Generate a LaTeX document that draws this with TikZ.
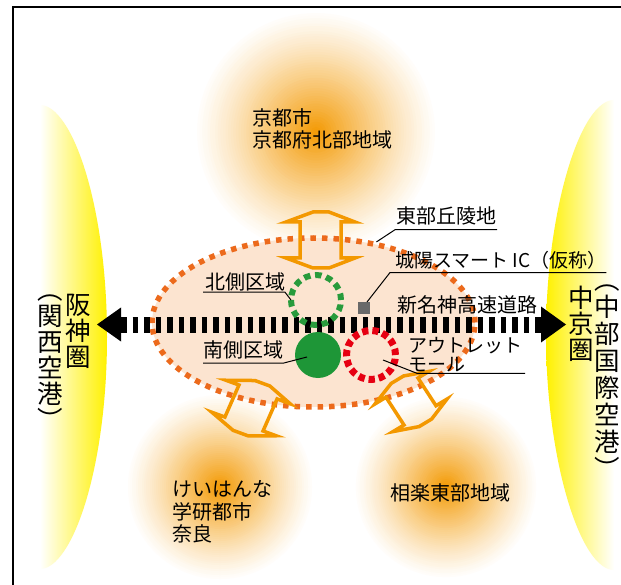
\documentclass[tikz,border=0pt]{standalone}
\usepackage{fontspec}
\setmainfont{Noto Sans CJK JP}
\usetikzlibrary{shapes.geometric,arrows.meta,calc}
\definecolor{glowc}{RGB}{243,152,0}
\definecolor{lensY}{RGB}{255,241,0}
\definecolor{peach}{RGB}{252,228,208}
\definecolor{dotor}{RGB}{236,106,28}
\definecolor{arrowor}{RGB}{243,152,0}
\definecolor{gring}{RGB}{40,155,60}
\definecolor{gdisk}{RGB}{30,150,55}
\definecolor{rring}{RGB}{230,0,18}
\definecolor{sqgray}{RGB}{105,105,105}
\newcommand\glowdisc[3]{%
  \foreach \i in {0,...,47}{%
    \pgfmathsetmacro\rr{#3*(1-\i/48)}%
    \pgfmathtruncatemacro\pp{100*(\i/48)^1.2}%
    \fill[glowc!\pp!white] (#1,#2) circle (\rr);}}
\tikzset{
  lbl/.style={font=\fontsize{20pt}{22pt}\selectfont, inner sep=0pt, outer sep=0pt, text=black},
  lblk/.style={font=\fontsize{20pt}{22.5pt}\selectfont, inner sep=0pt, outer sep=0pt, text=black},
  lbls/.style={font=\fontsize{19pt}{19pt}\selectfont, inner sep=0pt, outer sep=0pt, text=black},
  vtxt/.style={font=\fontsize{25.5pt}{26pt}\selectfont, align=center, inner sep=0pt, outer sep=0pt, text=black},
  vtxtw/.style={font=\fontsize{25.5pt}{27pt}\selectfont, align=center, inner sep=0pt, outer sep=0pt, text=black},
  leader/.style={draw=black, line width=1pt},
  oarrow/.style={draw=arrowor, line width=3.5pt, line join=miter},
  road/.style={draw=black, line width=16pt, dash pattern=on 5.5pt off 6pt,
    {Triangle[length=24pt, width=34pt, line width=0pt]}-{Triangle[length=25pt, width=36pt, line width=0pt]}},
  dblarr/.pic={\draw[oarrow] (-34.5,18) -- (-7.5,28) -- (8.5,28) -- (34.5,18) -- (20.5,18) -- (20.5,-18) -- (34.5,-18) -- (8.5,-28) -- (-7.5,-28) -- (-34.5,-18) -- (-20.5,-18) -- (-20.5,18) -- cycle;}
}
\begin{document}
\begin{tikzpicture}[x=1pt, y=-1pt]
\useasboundingbox (0,0) rectangle (621,585);
\fill[white] (0,0) rectangle (621,585);
\begin{scope}
\clip (0,0) rectangle (621,585);
% glows
\glowdisc{316}{132}{124}
\glowdisc{220}{487}{96}
\glowdisc{446}{487}{94}
% yellow lenses
\shade[left color=white, right color=lensY] (40,105) .. controls (72,105) and (107,205) .. (107,337) .. controls (107,469) and (72,569) .. (40,569) -- cycle;
\shade[left color=lensY, right color=white] (614,100) .. controls (580,100) and (546,212) .. (546,335) .. controls (546,458) and (580,570) .. (614,570) -- cycle;
% hill area
\node[ellipse, fill=peach, draw=dotor, line width=5.5pt, dash pattern=on 5.5pt off 6pt, minimum width=323pt, minimum height=169pt, inner sep=0pt] (hill) at (313.5,322.5) {};
% road
\coordinate (roadL) at (97,324.5);
\coordinate (roadR) at (566,324.5);
\draw[road] (roadL) -- (roadR);
% zones
\node[circle, draw=gring, line width=6pt, dash pattern=on 6.5pt off 4.72pt, minimum size=50pt, inner sep=0pt, outer sep=0pt] (kring) at (316,300) {};
\node[circle, fill=gdisk, minimum size=46pt, inner sep=0pt, outer sep=0pt] (sdisk) at (318,355) {};
\node[circle, draw=rring, line width=7pt, dash pattern=on 6.3pt off 3.96pt, minimum size=49pt, inner sep=0pt, outer sep=0pt] (rring) at (371,355) {};
\node[fill=sqgray, minimum size=12pt, inner sep=0pt, outer sep=0pt] (gsq) at (364,308) {};
% orange double arrows
\pic (arrN) at (320.5,240) {dblarr};
\pic[shift={(251,408)}, cm={0.93,-0.34,0.39,0.89,(0,0)}] (arrSW) {dblarr};
\pic[shift={(411,401.5)}, cm={0.78,0.47,-0.5,0.77,(0,0)}] (arrSE) {dblarr};
% labels
\node[lbl, align=left, anchor=west] (kyoto) at (252,128.5) {京都市\\京都府北部地域};
\node[lblk, align=left, anchor=west] (keihanna) at (172,512) {けいはんな\\学研都市\\奈良};
\node[lbl, anchor=west] (soraku) at (390,492.5) {相楽東部地域};
\node[lbl, anchor=west] (higashi) at (396,215.5) {東部丘陵地};
\node[lbls, anchor=west] (johyo) at (395,260) {城陽スマート IC（仮称）};
\node[lbl, anchor=west] (shinmei) at (397,304.5) {新名神高速道路};
\node[lbl, anchor=west] (kita) at (205,281.5) {北側区域};
\node[lbl, anchor=west] (minami) at (203,350) {南側区域};
\node[lbls, align=left, anchor=west] (outlet) at (408,355) {アウトレット\\モール};
% vertical labels
\node[vtxt] (hanshin) at (78,331) {阪\\神\\圏};
\node[vtxt] (kansai) at (50,362) {︵\\関\\西\\空\\港\\︶};
\node[vtxt] (chukyo) at (581,324) {中\\京\\圏};
\node[vtxtw] (chubu) at (607.5,382) {︵\\中\\部\\国\\際\\空\\港\\︶};
% leaders
\draw[leader] ($(higashi.south east)+(1,5)$) -- ($(higashi.south west)+(-1,5)$) -- (hill.52);
\draw[leader] ($(johyo.south east)+(0,3.5)$) -- ($(johyo.south west)+(-5,3.5)$) -- ($(gsq.north)+(3,0)$);
\draw[leader] ($(kita.south west)+(-2,1.5)$) -- ($(kita.south east)+(0,1.5)$) -- (kring.west);
\draw[leader] ($(minami.south west)+(0,4)$) -- ($(minami.south east)+(0,4)$) -- ($(sdisk.center)+(-11,2)$);
\draw[leader] ($(rring.center)+(12,5)$) -- ($(outlet.south west)+(9,1)$) -- ($(outlet.south east)+(3,1)$);
% frame
\draw[line width=1.4pt] (13,7) rectangle (640,600);
\end{scope}
\end{tikzpicture}
\end{document}
